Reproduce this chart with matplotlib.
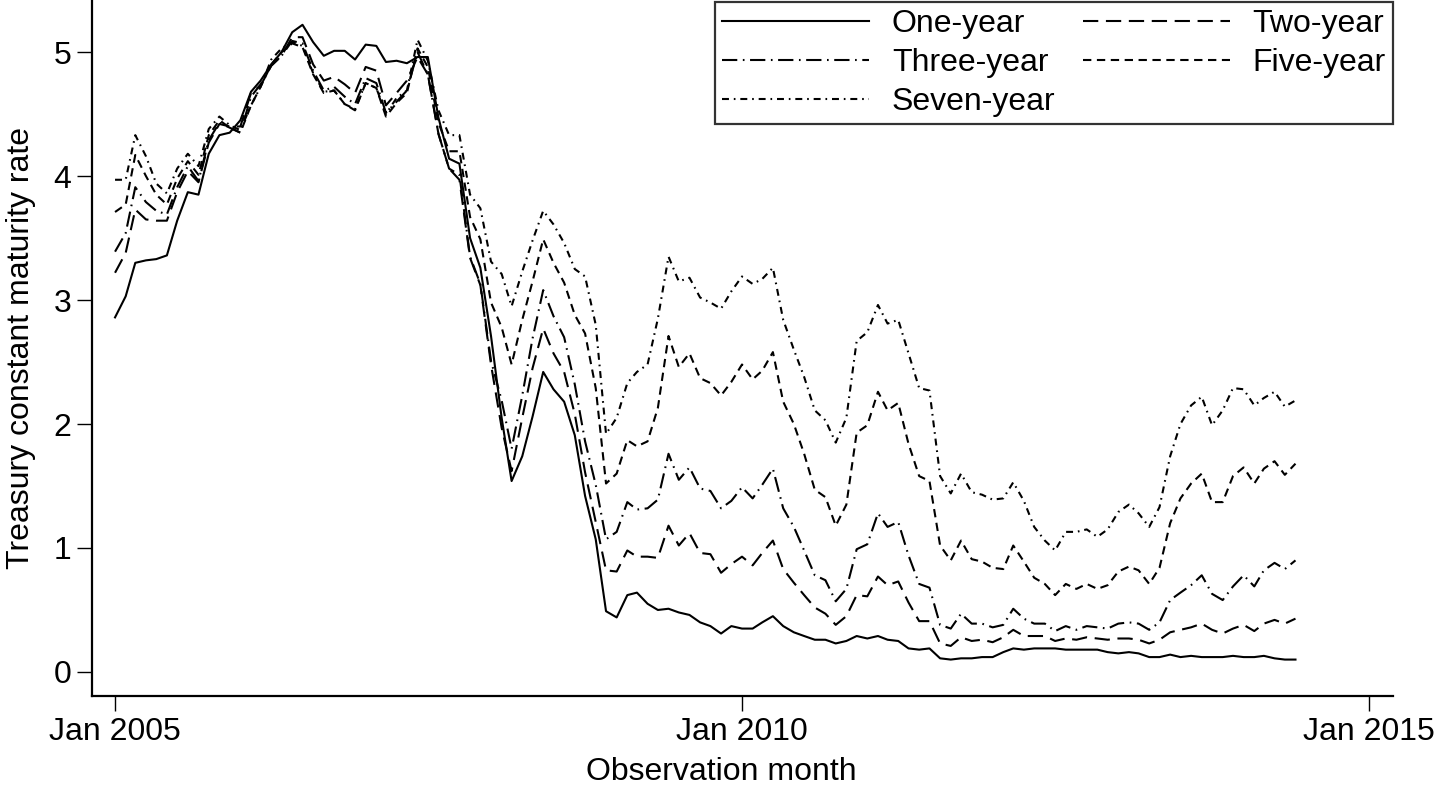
import matplotlib
matplotlib.use("Agg")
import matplotlib.pyplot as plt
import matplotlib.dates as mdates
import numpy as np
import pandas as pd

plt.rcParams['font.family'] = ['Liberation Sans', 'DejaVu Sans']
plt.rcParams['lines.scale_dashes'] = False

# monthly constant maturity rates, Jan 2005 - Jun 2014
months = pd.date_range('2005-01-01', periods=114, freq='MS')

one_year = [
    2.86, 3.03, 3.30, 3.32, 3.33, 3.36, 3.64, 3.87, 3.85, 4.18, 4.33, 4.35,
    4.45, 4.68, 4.77, 4.90, 5.00, 5.16, 5.22, 5.08, 4.97, 5.01, 5.01, 4.94,
    5.06, 5.05, 4.92, 4.93, 4.91, 4.96, 4.96, 4.47, 4.14, 4.10, 3.50, 3.26,
    2.71, 2.05, 1.54, 1.74, 2.06, 2.42, 2.28, 2.18, 1.91, 1.42, 1.07, 0.49,
    0.44, 0.62, 0.64, 0.55, 0.50, 0.51, 0.48, 0.46, 0.40, 0.37, 0.31, 0.37,
    0.35, 0.35, 0.40, 0.45, 0.37, 0.32, 0.29, 0.26, 0.26, 0.23, 0.25, 0.29,
    0.27, 0.29, 0.26, 0.25, 0.19, 0.18, 0.19, 0.11, 0.10, 0.11, 0.11, 0.12,
    0.12, 0.16, 0.19, 0.18, 0.19, 0.19, 0.19, 0.18, 0.18, 0.18, 0.18, 0.16,
    0.15, 0.16, 0.15, 0.12, 0.12, 0.14, 0.12, 0.13, 0.12, 0.12, 0.12, 0.13,
    0.12, 0.12, 0.13, 0.11, 0.10, 0.10]

two_year = [
    3.22, 3.38, 3.73, 3.65, 3.64, 3.64, 3.87, 4.04, 3.95, 4.27, 4.42, 4.40,
    4.40, 4.67, 4.73, 4.89, 4.97, 5.12, 5.12, 4.90, 4.77, 4.80, 4.74, 4.67,
    4.88, 4.85, 4.57, 4.67, 4.77, 4.96, 4.82, 4.34, 4.06, 3.97, 3.34, 3.12,
    2.48, 1.97, 1.62, 2.05, 2.45, 2.77, 2.57, 2.42, 2.08, 1.61, 1.21, 0.82,
    0.81, 0.98, 0.93, 0.93, 0.92, 1.18, 1.02, 1.12, 0.96, 0.95, 0.80, 0.87,
    0.93, 0.86, 0.96, 1.06, 0.83, 0.72, 0.62, 0.52, 0.47, 0.38, 0.45, 0.62,
    0.61, 0.77, 0.70, 0.73, 0.56, 0.41, 0.41, 0.23, 0.21, 0.28, 0.25, 0.26,
    0.24, 0.28, 0.34, 0.29, 0.29, 0.29, 0.25, 0.27, 0.26, 0.28, 0.27, 0.26,
    0.27, 0.27, 0.26, 0.23, 0.26, 0.32, 0.34, 0.36, 0.39, 0.34, 0.31, 0.35,
    0.38, 0.33, 0.39, 0.42, 0.39, 0.43]

three_year = [
    3.39, 3.54, 3.91, 3.79, 3.72, 3.69, 3.91, 4.08, 3.96, 4.29, 4.43, 4.39,
    4.35, 4.64, 4.74, 4.89, 4.97, 5.09, 5.07, 4.85, 4.69, 4.72, 4.64, 4.58,
    4.79, 4.75, 4.51, 4.60, 4.69, 5.00, 4.82, 4.34, 4.06, 4.01, 3.35, 3.13,
    2.51, 2.19, 1.80, 2.23, 2.69, 3.08, 2.87, 2.70, 2.32, 1.86, 1.51, 1.07,
    1.13, 1.37, 1.31, 1.32, 1.39, 1.76, 1.55, 1.65, 1.48, 1.46, 1.32, 1.38,
    1.49, 1.40, 1.51, 1.64, 1.32, 1.17, 0.98, 0.78, 0.74, 0.57, 0.67, 0.99,
    1.03, 1.28, 1.17, 1.21, 0.94, 0.71, 0.68, 0.38, 0.35, 0.47, 0.39, 0.39,
    0.36, 0.38, 0.51, 0.43, 0.39, 0.39, 0.33, 0.37, 0.34, 0.37, 0.36, 0.35,
    0.39, 0.40, 0.39, 0.34, 0.40, 0.58, 0.64, 0.70, 0.78, 0.63, 0.58, 0.69,
    0.78, 0.69, 0.82, 0.88, 0.83, 0.90]

five_year = [
    3.71, 3.77, 4.17, 4.00, 3.85, 3.77, 3.98, 4.12, 4.01, 4.33, 4.45, 4.39,
    4.35, 4.57, 4.72, 4.90, 5.00, 5.07, 5.04, 4.82, 4.67, 4.69, 4.58, 4.53,
    4.75, 4.71, 4.48, 4.59, 4.67, 5.03, 4.88, 4.43, 4.20, 4.20, 3.67, 3.49,
    2.98, 2.78, 2.48, 2.84, 3.15, 3.49, 3.30, 3.14, 2.88, 2.73, 2.29, 1.52,
    1.60, 1.87, 1.82, 1.86, 2.13, 2.71, 2.46, 2.57, 2.37, 2.33, 2.23, 2.34,
    2.48, 2.36, 2.43, 2.58, 2.18, 2.00, 1.76, 1.47, 1.41, 1.18, 1.35, 1.93,
    1.99, 2.26, 2.11, 2.17, 1.84, 1.58, 1.54, 1.02, 0.90, 1.06, 0.91, 0.89,
    0.84, 0.83, 1.02, 0.89, 0.76, 0.71, 0.62, 0.71, 0.67, 0.71, 0.67, 0.70,
    0.81, 0.85, 0.82, 0.71, 0.84, 1.20, 1.40, 1.52, 1.60, 1.37, 1.37, 1.58,
    1.65, 1.52, 1.64, 1.70, 1.59, 1.68]

seven_year = [
    3.97, 3.97, 4.33, 4.16, 3.94, 3.86, 4.06, 4.18, 4.08, 4.38, 4.48, 4.41,
    4.37, 4.57, 4.72, 4.94, 5.03, 5.08, 5.05, 4.83, 4.68, 4.69, 4.58, 4.54,
    4.75, 4.71, 4.50, 4.63, 4.69, 5.10, 4.93, 4.53, 4.33, 4.33, 3.85, 3.74,
    3.31, 3.21, 2.95, 3.23, 3.48, 3.72, 3.61, 3.46, 3.25, 3.19, 2.80, 1.92,
    2.05, 2.33, 2.42, 2.48, 2.85, 3.35, 3.15, 3.18, 3.02, 2.98, 2.93, 3.07,
    3.19, 3.13, 3.17, 3.26, 2.84, 2.60, 2.38, 2.11, 2.03, 1.85, 2.05, 2.67,
    2.74, 2.96, 2.81, 2.84, 2.57, 2.29, 2.27, 1.58, 1.44, 1.60, 1.45, 1.43,
    1.39, 1.40, 1.53, 1.38, 1.17, 1.06, 0.98, 1.13, 1.13, 1.15, 1.09, 1.15,
    1.29, 1.35, 1.28, 1.17, 1.33, 1.74, 2.00, 2.15, 2.22, 1.99, 2.11, 2.29,
    2.28, 2.15, 2.21, 2.26, 2.14, 2.19]

series = [
    ('One-year', one_year, '-'),
    ('Two-year', two_year, (0, (11, 5.5))),
    ('Three-year', three_year, (0, (11, 4, 1.2, 4))),
    ('Five-year', five_year, (0, (6, 4))),
    ('Seven-year', seven_year, (0, (5, 3.5, 1.2, 3.5))),
]

size = 23

fig = plt.figure(figsize=(14.38, 7.97), dpi=100)
ax = fig.add_axes([0.064, 0.1267, 0.9047, 0.8733])

lines = {}
for name, vals, ls in series:
    lines[name], = ax.plot(months, vals, color='black', lw=1.5, linestyle=ls, label=name)

ax.set_xlim(mdates.date2num(pd.Timestamp('2004-10-26')), mdates.date2num(pd.Timestamp('2015-03-12')))
ax.set_ylim(-0.194, 5.42)

xt = pd.to_datetime(['2005-01-01', '2010-01-01', '2015-01-01'])
ax.set_xticks(xt)
ax.set_xticklabels(['Jan 2005', 'Jan 2010', 'Jan 2015'], fontsize=size)
ax.set_yticks(range(6))
ax.set_yticklabels([str(i) for i in range(6)], fontsize=size)
ax.tick_params(direction='out', length=11, width=1, pad=4)

for s in ['top', 'right']:
    ax.spines[s].set_visible(False)
for s in ['left', 'bottom']:
    ax.spines[s].set_linewidth(1.6)

ax.set_ylabel('Treasury constant maturity rate', fontsize=size)
ax.set_xlabel('Observation month', fontsize=size)
ax.yaxis.set_label_coords(-0.043, 0.5)
ax.xaxis.set_label_coords(0.4835, -0.088)

order = ['One-year', 'Three-year', 'Seven-year', 'Two-year', 'Five-year']
leg = ax.legend([lines[n] for n in order], order, ncol=2, loc='upper right',
                bbox_to_anchor=(1.0, 0.997), borderaxespad=0, fontsize=size,
                handlelength=4.6, handletextpad=0.72, columnspacing=0.85,
                labelspacing=0.28, borderpad=0.22, fancybox=False, frameon=True)
leg.get_frame().set_edgecolor('black')
leg.get_frame().set_linewidth(1.6)

fig.savefig('out.png', dpi=100)
